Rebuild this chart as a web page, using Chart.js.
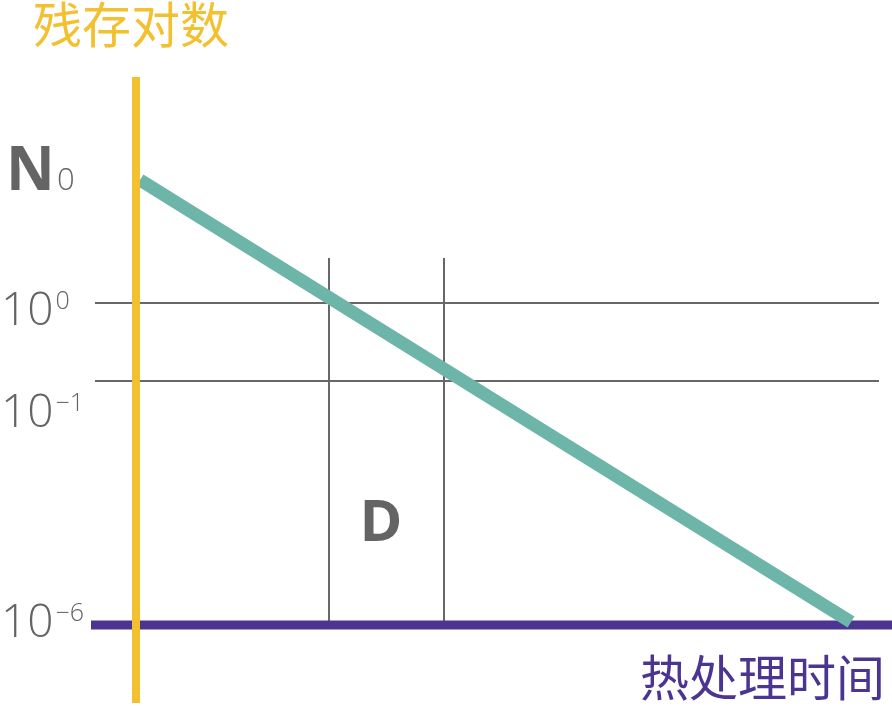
<!DOCTYPE html>
<html>
<head>
<meta charset="utf-8">
<script src="https://cdn.jsdelivr.net/npm/chart.js@4/dist/chart.umd.min.js"></script>
<style>
  html, body { margin: 0; padding: 0; background: #fff; }
  #wrap { width: 892px; height: 706px; }
</style>
</head>
<body>
<div id="wrap"><canvas id="chart" width="892" height="706"></canvas></div>
<script>
// schematic units: x = heating time (0 at the vertical axis), y = log level (0 at 10^-6)
const axisTitleY = '残存对数';
const axisTitleX = '热处理时间';

// survivor curve
const curveX = [0.04, 7.15];
const curveY = [4.45, 0.03];

// reference levels (horizontal guides)
const guideLevels = [3.22, 2.44];
const guideFrom = -0.41, guideTo = 7.43;

// D interval (vertical guides)
const dTimes = [1.93, 3.08];
const dFrom = 0.04, dTo = 3.67;

// axes
const yAxisX = 0, yAxisFrom = -0.78, yAxisTo = 5.48;
const xAxisY = 0, xAxisFrom = -0.45, xAxisTo = 7.56;

// tick labels: base, exponent, baseline level
const tickBase = ['10', '10', '10'];
const tickExp = ['0', '\u22121', '\u22126'];
const tickBaseline = [3.00, 1.98, -0.12];

const n0Level = 4.35; // baseline of N0 label
const dLabel = { x: 2.45, y: 0.84, text: 'D' };

const gray = '#676767';
const textGray = '#646464';
const green = '#6db5a8';
const yellow = '#f3c030';
const purple = '#4b3591';

function seg(xs, ys) {
  return xs.map((x, i) => ({ x: x, y: ys[i] }));
}

const datasets = [];
datasets.push({ data: seg([yAxisX, yAxisX], [yAxisFrom, yAxisTo]), borderColor: yellow, borderWidth: 8, order: 0 });
datasets.push({ data: seg(curveX, curveY), borderColor: green, borderWidth: 13, order: 1 });
datasets.push({ data: seg([xAxisFrom, xAxisTo], [xAxisY, xAxisY]), borderColor: purple, borderWidth: 9, order: 2 });
guideLevels.forEach(lv => {
  datasets.push({ data: seg([guideFrom, guideTo], [lv, lv]), borderColor: gray, borderWidth: 2, order: 3 });
});
dTimes.forEach(t => {
  datasets.push({ data: seg([t, t], [dFrom, dTo]), borderColor: gray, borderWidth: 2, order: 3 });
});
datasets.forEach(d => {
  d.showLine = true;
  d.pointRadius = 0;
  d.borderCapStyle = 'butt';
  d.clip = false;
});

// text labels drawn through the scales
const labelPlugin = {
  id: 'labels',
  afterDraw(chart) {
    const ctx = chart.ctx;
    const xs = chart.scales.x, ys = chart.scales.y;
    const px = v => xs.getPixelForValue(v);
    const py = v => ys.getPixelForValue(v);
    ctx.save();
    ctx.textBaseline = 'alphabetic';

    // axis titles
    ctx.fillStyle = yellow;
    ctx.font = '49px "Noto Sans CJK SC"';
    ctx.textAlign = 'left';
    ctx.fillText(axisTitleY, px(yAxisX) - 103, py(yAxisTo) - 34);

    ctx.fillStyle = purple;
    ctx.textAlign = 'right';
    ctx.fillText(axisTitleX, px(xAxisTo) - 7, py(xAxisY) + 71);

    // N0
    ctx.fillStyle = textGray;
    ctx.textAlign = 'left';
    ctx.font = 'bold 60px "Open Sans"';
    ctx.fillText('N', px(yAxisX) - 130, py(n0Level));
    ctx.font = '300 31px "Open Sans"';
    ctx.fillText('0', px(yAxisX) - 79, py(n0Level));

    // powers of ten
    for (let i = 0; i < tickBase.length; i++) {
      const y = py(tickBaseline[i]);
      ctx.font = '300 46px "Open Sans"';
      ctx.fillText(tickBase[i], px(yAxisX) - 135, y);
      const w = ctx.measureText(tickBase[i]).width;
      ctx.font = '300 25px "Open Sans"';
      ctx.fillText(tickExp[i], px(yAxisX) - 135 + w + 2, y - 16);
    }

    // D
    ctx.font = 'bold 58px "Open Sans"';
    ctx.textAlign = 'center';
    ctx.fillText(dLabel.text, px(dLabel.x), py(dLabel.y));
    ctx.restore();
  }
};

new Chart(document.getElementById('chart'), {
  type: 'scatter',
  data: { datasets: datasets },
  options: {
    responsive: false,
    animation: false,
    devicePixelRatio: 1,
    layout: { padding: 0 },
    plugins: { legend: { display: false }, tooltip: { enabled: false } },
    scales: {
      x: { type: 'linear', display: false, min: -1.36, max: 7.56 },
      y: { type: 'linear', display: false, min: -0.81, max: 6.25 }
    }
  },
  plugins: [labelPlugin]
});
</script>
</body>
</html>
